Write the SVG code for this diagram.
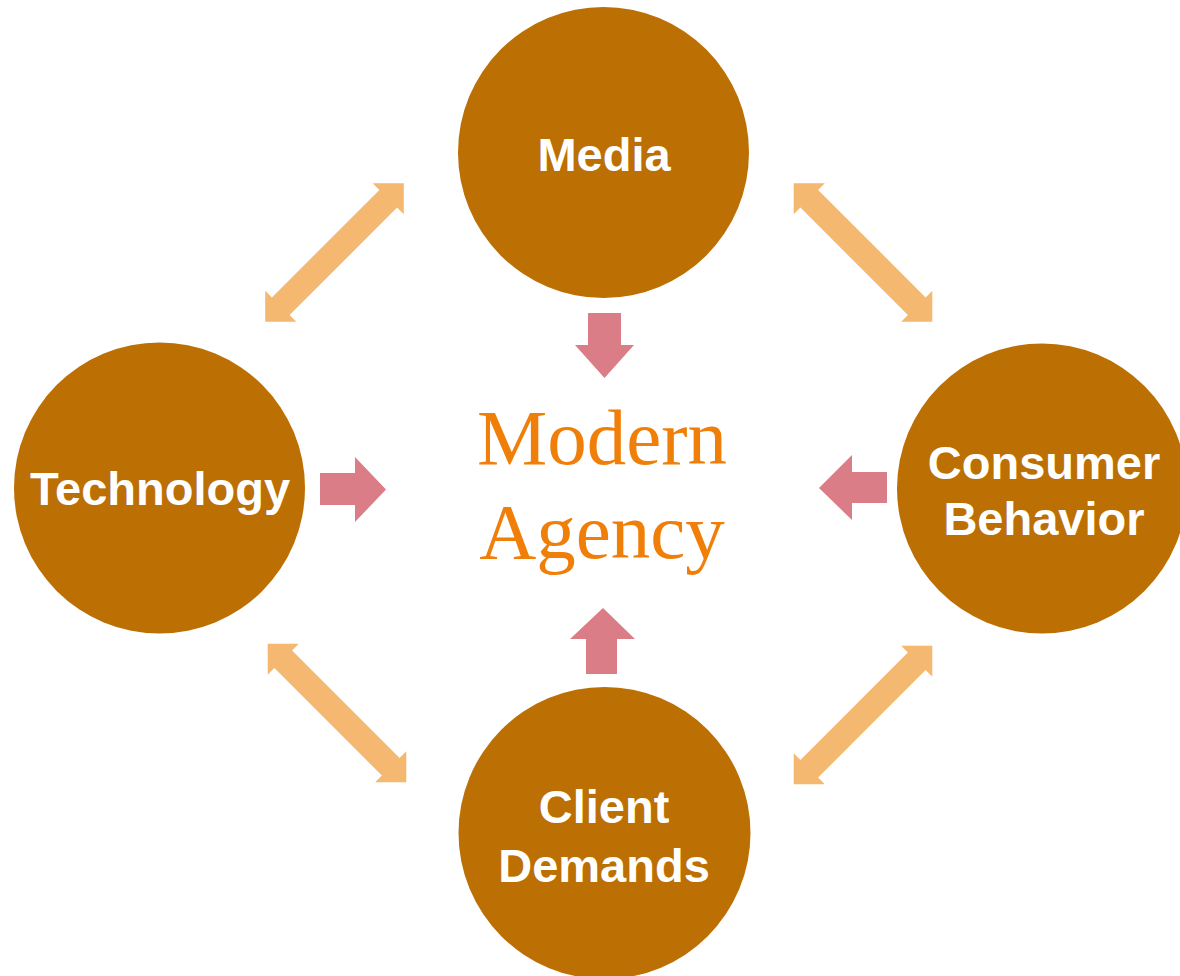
<svg xmlns="http://www.w3.org/2000/svg" xmlns:xlink="http://www.w3.org/1999/xlink" width="1180" height="976" viewBox="0 0 1180 976">
<style>
.node{fill:#BC6F03}
.lbl{font-family:"Liberation Sans",Arial,sans-serif;font-weight:bold;font-size:47px;fill:#FFFFFF;text-anchor:middle}
.center{font-family:"Liberation Serif","Times New Roman",serif;font-size:79px;fill:#F07F09;text-anchor:middle}
.dbl{fill:#F4B870}
.pink{fill:#DB7D86}
</style>
<defs>
<polygon id="dblArrow" points="-98,0 -76,-22 -76,-12.5 76,-12.5 76,-22 98,0 76,22 76,12.5 -76,12.5 -76,22"/>
</defs>
<rect width="1180" height="976" fill="#FFFFFF"/>
<g id="connectors">
<use xlink:href="#dblArrow" class="dbl" transform="translate(334.5,252.5) rotate(-45)"/>
<use xlink:href="#dblArrow" class="dbl" transform="translate(863,252.5) rotate(45)"/>
<use xlink:href="#dblArrow" class="dbl" transform="translate(337,713) rotate(45)"/>
<use xlink:href="#dblArrow" class="dbl" transform="translate(863,715) rotate(-45)"/>
<polygon class="pink" points="588,313 621,313 621,345 634,345 604.5,378 575,345 588,345"/>
<polygon class="pink" points="320,473 355,473 355,457 386,489.5 355,522 355,505 320,505"/>
<polygon class="pink" points="887,472 852,472 852,455 819,488 852,520 852,503 887,503"/>
<polygon class="pink" points="586,674 617,674 617,639 635,639 603,608 570,639 586,639"/>
</g>
<g id="media">
<circle class="node" cx="603.5" cy="152.5" r="145.5"/>
<text class="lbl" x="604" y="171">Media</text>
</g>
<g id="technology">
<circle class="node" cx="159.5" cy="488" r="145.5"/>
<text class="lbl" x="160" y="505">Technology</text>
</g>
<g id="consumer-behavior">
<circle class="node" cx="1042" cy="488.5" r="145"/>
<text class="lbl" x="1044" y="479">Consumer</text>
<text class="lbl" x="1044" y="535">Behavior</text>
</g>
<g id="client-demands">
<circle class="node" cx="604.5" cy="833" r="146"/>
<text class="lbl" x="604" y="823">Client</text>
<text class="lbl" x="604" y="882">Demands</text>
</g>
<g id="modern-agency">
<text class="center" x="602" y="464">Modern</text>
<text class="center" x="602" y="558">Agency</text>
</g>
</svg>
